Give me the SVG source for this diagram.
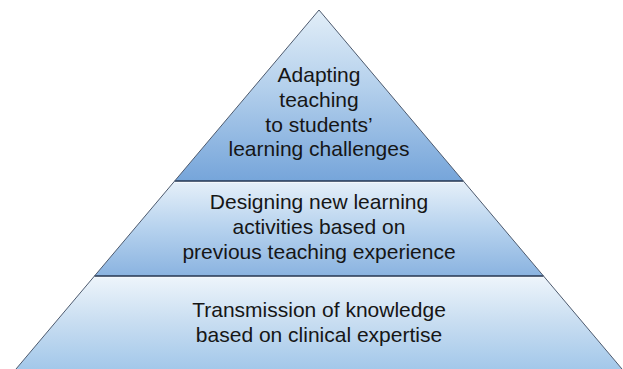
<svg xmlns="http://www.w3.org/2000/svg" width="623" height="369" viewBox="0 0 623 369">
  <defs>
    <linearGradient id="gTop" x1="0" y1="0" x2="0" y2="1">
      <stop offset="0" stop-color="#e2eef8"/>
      <stop offset="0.45" stop-color="#b4d0ec"/>
      <stop offset="1" stop-color="#76a5da"/>
    </linearGradient>
    <linearGradient id="gMid" x1="0" y1="0" x2="0" y2="1">
      <stop offset="0" stop-color="#e6f0f9"/>
      <stop offset="0.5" stop-color="#b6d2ee"/>
      <stop offset="1" stop-color="#8ab3e0"/>
    </linearGradient>
    <linearGradient id="gBot" x1="0" y1="0" x2="0" y2="1">
      <stop offset="0" stop-color="#eef5fb"/>
      <stop offset="0.5" stop-color="#c8ddf1"/>
      <stop offset="1" stop-color="#a3c8ea"/>
    </linearGradient>
    <style>
      .lbl { font-family: "Liberation Sans", Arial, sans-serif; font-size: 21px; fill: #161616; text-anchor: middle; }
      .side { stroke: #4d5a6e; stroke-width: 1; fill: none; }
      .div { stroke: #263650; stroke-width: 1.3; }
      .hl { stroke: #f4f8fc; stroke-width: 1.2; }
    </style>
  </defs>
  <rect width="623" height="369" fill="#ffffff"/>

  <g id="tier-top">
    <polygon points="319,10 463.3,181 174.7,181" fill="url(#gTop)"/>
    <text class="lbl" x="319" y="82">Adapting</text>
    <text class="lbl" x="319" y="107">teaching</text>
    <text class="lbl" x="319" y="132">to students’</text>
    <text class="lbl" x="319" y="156">learning challenges</text>
  </g>

  <g id="tier-middle">
    <polygon points="174.7,181 463.3,181 543.5,276 94.5,276" fill="url(#gMid)"/>
    <text class="lbl" x="319" y="209">Designing new learning</text>
    <text class="lbl" x="319" y="234">activities based on</text>
    <text class="lbl" x="319" y="259">previous teaching experience</text>
  </g>

  <g id="tier-bottom">
    <polygon points="94.5,276 543.5,276 622,369 16,369" fill="url(#gBot)"/>
    <text class="lbl" x="319" y="317">Transmission of knowledge</text>
    <text class="lbl" x="319" y="342">based on clinical expertise</text>
  </g>

  <g id="connectors">
    <line class="hl" x1="175.5" y1="182.4" x2="462.5" y2="182.4"/>
    <line class="hl" x1="95.5" y1="277.4" x2="542.5" y2="277.4"/>
    <line class="div" x1="174.7" y1="181" x2="463.3" y2="181"/>
    <line class="div" x1="94.5" y1="276" x2="543.5" y2="276"/>
    <polyline class="side" points="16,369 319,10 622,369"/>
  </g>
</svg>
